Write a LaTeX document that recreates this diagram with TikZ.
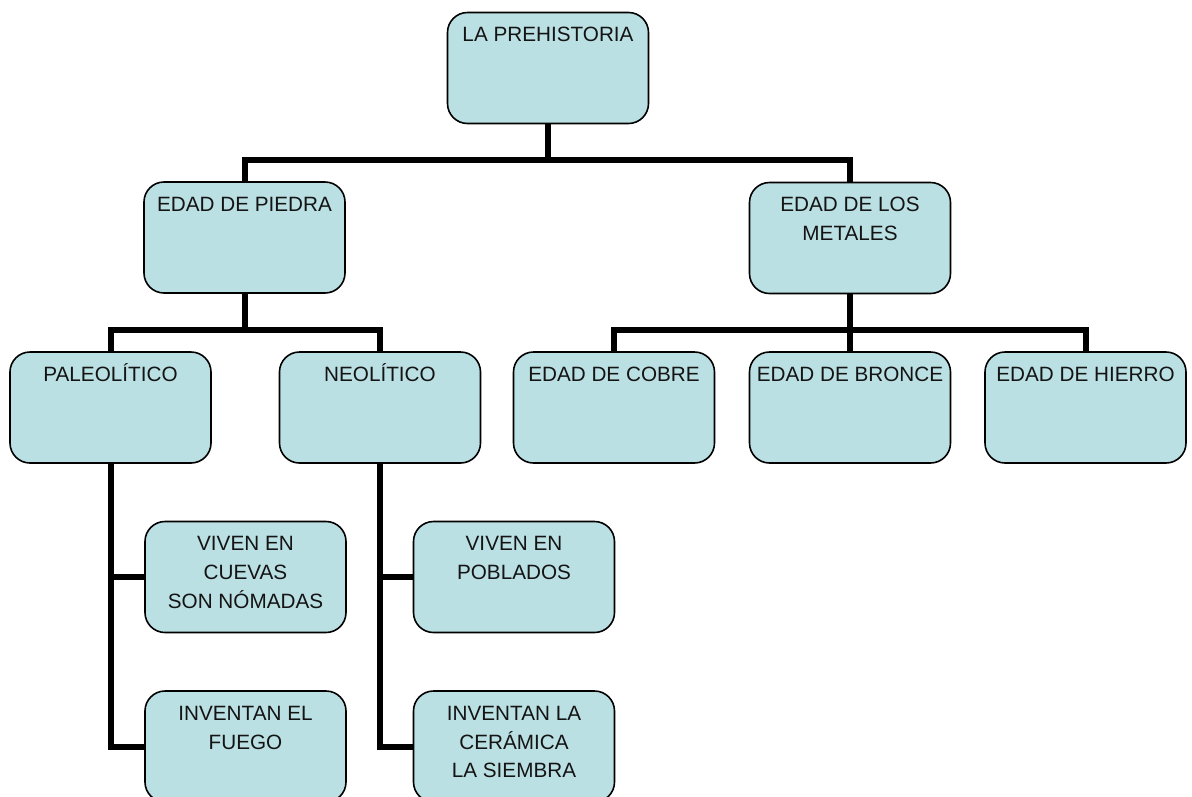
\documentclass[tikz,border=0pt]{standalone}
\usepackage{fontspec}
\setmainfont{Liberation Sans}
\definecolor{boxfill}{RGB}{187,224,227}
\definecolor{boxtxt}{RGB}{20,20,20}
\newcommand\bxstrut{\rule{0pt}{19pt}}
\tikzset{
  box/.style={draw=black, line width=1.6pt, rounded corners=20pt, fill=boxfill,
    minimum width=201pt, minimum height=111pt, inner sep=0pt},
  boxtext/.style={anchor=north, yshift=-11pt, inner sep=0pt, align=center,
    text=boxtxt, font=\fontsize{20.7}{28.7}\selectfont},
  conn/.style={draw=black, line width=6pt}
}
\begin{document}
\begin{tikzpicture}[x=1pt,y=-1pt]
\useasboundingbox (0,0) rectangle (1192,796);
\clip (0,0) rectangle (1192,796);
% boxes
\node[box, label={[boxtext]north:\bxstrut LA PREHISTORIA}] (root) at (548,68) {};
\node[box, label={[boxtext]north:\bxstrut EDAD DE PIEDRA}] (piedra) at (244.5,237.5) {};
\node[box, label={[boxtext]north:\bxstrut EDAD DE LOS\\METALES}] (metales) at (850,238) {};
\node[box, label={[boxtext]north:\bxstrut PALEOLÍTICO}] (paleo) at (110.5,407.5) {};
\node[box, label={[boxtext]north:\bxstrut NEOLÍTICO}] (neo) at (380,407.5) {};
\node[box, label={[boxtext]north:\bxstrut EDAD DE COBRE}] (cobre) at (614,407.5) {};
\node[box, label={[boxtext]north:\bxstrut EDAD DE BRONCE}] (bronce) at (850,407.5) {};
\node[box, label={[boxtext]north:\bxstrut EDAD DE HIERRO}] (hierro) at (1085.5,407.5) {};
\node[box, label={[boxtext]north:\bxstrut VIVEN EN\\CUEVAS\\SON NÓMADAS}] (cuevas) at (245.5,577) {};
\node[box, label={[boxtext]north:\bxstrut INVENTAN EL\\FUEGO}] (fuego) at (245.5,746.5) {};
\node[box, label={[boxtext]north:\bxstrut VIVEN EN\\POBLADOS}] (poblados) at (514,577) {};
\node[box, label={[boxtext]north:\bxstrut INVENTAN LA\\CERÁMICA\\LA SIEMBRA}] (ceramica) at (514,746.5) {};
% bus coordinates
\coordinate (bus1) at (548,160);
\coordinate (bus2) at (244.5,330);
\coordinate (bus3) at (850,330);
% connectors
\begin{scope}[on background layer/.style={}]
\draw[conn] (root.south) -- (bus1);
\draw[conn] (piedra.north) |- (bus1) -| (metales.north);
\draw[conn] (piedra.south) -- (bus2);
\draw[conn] (paleo.north) |- (bus2) -| (neo.north);
\draw[conn] (metales.south) -- (bronce.north);
\draw[conn] (cobre.north) |- (bus3) -| (hierro.north);
\draw[conn] (paleo.south) |- (cuevas.west);
\draw[conn] (paleo.south) |- (fuego.west);
\draw[conn] (neo.south) |- (poblados.west);
\draw[conn] (neo.south) |- (ceramica.west);
\end{scope}
\end{tikzpicture}
\end{document}
